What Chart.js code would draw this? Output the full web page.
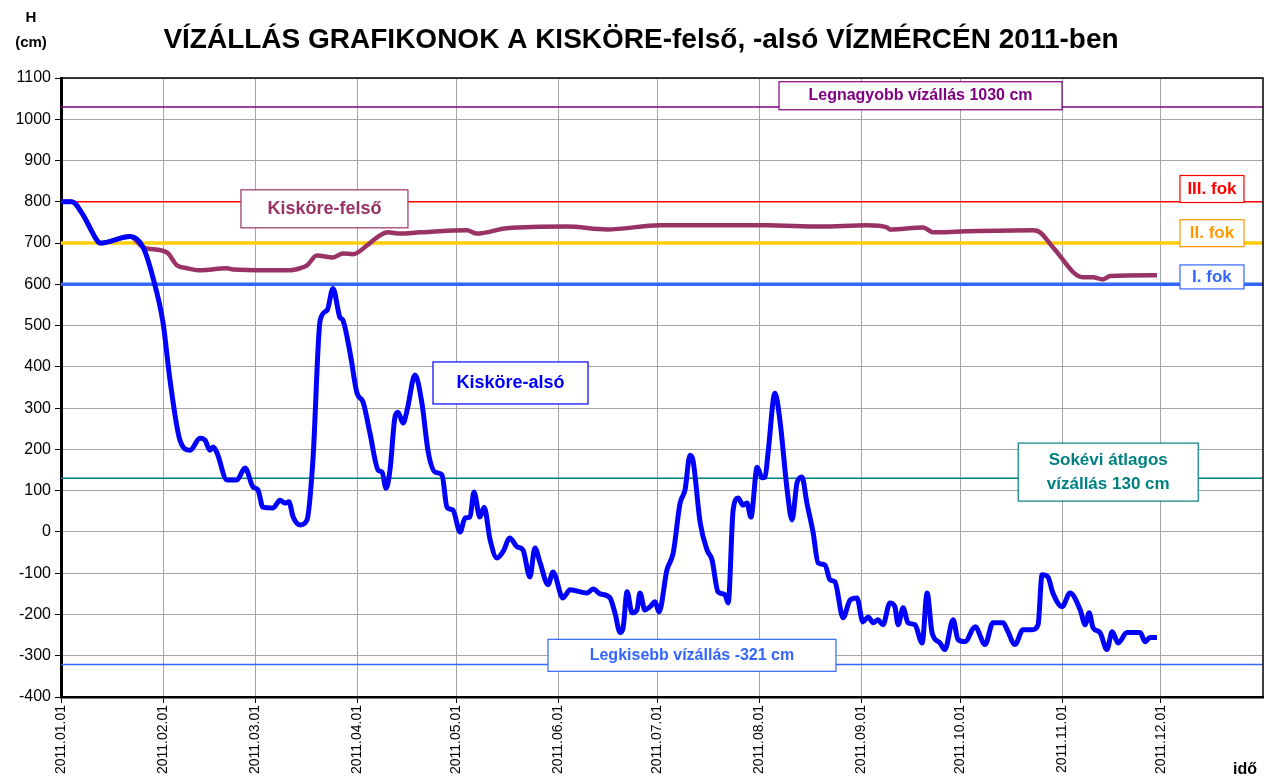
<!DOCTYPE html>
<html lang="hu">
<head>
<meta charset="utf-8">
<title>Vízállás grafikonok Kisköre 2011</title>
<script src="https://cdn.jsdelivr.net/npm/chart.js@4/dist/chart.umd.min.js"></script>
<style>
  html, body { margin: 0; padding: 0; background: #fff; }
  #wrap { position: relative; width: 1266px; height: 783px; }
</style>
</head>
<body>
<div id="wrap"><canvas id="chart" width="1266" height="783"></canvas></div>
<script>
// hónapok kezdőnapja (az év napja) és a tengelyfeliratok
const monthDays = [0, 31, 59, 90, 120, 151, 181, 212, 243, 273, 304, 334];
const monthLabels = ["2011.01.01", "2011.02.01", "2011.03.01", "2011.04.01", "2011.05.01", "2011.06.01",
  "2011.07.01", "2011.08.01", "2011.09.01", "2011.10.01", "2011.11.01", "2011.12.01"];

// Kisköre-felső (cm)
const felsoDays = [0.3, 3.3, 6.4, 10.9, 11.8, 21.0, 24.9, 26.1, 32.2, 35.2, 38.3, 42.2, 50.4, 52.2, 62.6, 69.5,
  72.6, 74.7, 77.7, 82.6, 85.6, 88.7, 92.9, 96.0, 99.3, 102.9, 109.0, 123.3, 126.3, 135.4, 153.7, 165.8,
  181.9, 200.1, 214.4, 230.5, 244.8, 250.8, 251.7, 261.8, 264.8, 273.0, 295.2, 297.3, 301.2, 310.3, 313.4,
  316.4, 318.6, 332.8];
const felsoValues = [800, 800, 772, 707, 700, 716, 690, 687, 677, 646, 639, 634, 639, 636, 634, 634,
  639, 646, 670, 665, 675, 673, 694, 714, 726, 723, 726, 731, 723, 736, 740, 733,
  743, 743, 743, 740, 743, 738, 733, 738, 726, 728, 731, 726, 690, 617, 617,
  612, 620, 622];

// Kisköre-alsó (cm)
const alsoDays = [0.3, 3.3, 6.4, 10.9, 11.8, 21.0, 24.9, 27.9, 31.0, 33.1, 36.1, 39.2, 42.2, 43.7, 45.2, 46.2,
  47.4, 50.4, 53.4, 55.9, 58.3, 59.8, 61.3, 64.4, 66.5, 68.0, 69.2, 70.5, 72.6, 74.7, 76.5, 78.7, 80.8, 82.6,
  84.7, 85.6, 87.8, 89.9, 91.7, 93.8, 96.3, 97.5, 98.7, 99.9, 101.4, 102.3, 103.9, 105.1, 107.5, 109.6, 111.5,
  113.6, 115.7, 117.2, 119.0, 121.2, 122.7, 124.2, 125.4, 127.2, 128.5, 130.3, 132.4, 134.2, 136.3, 138.5,
  140.3, 142.4, 143.9, 145.5, 147.9, 149.4, 152.4, 154.6, 159.7, 161.6, 163.7, 166.7, 168.2, 169.8, 170.7,
  171.9, 173.4, 174.9, 175.8, 177.3, 178.9, 180.4, 181.6, 184.0, 185.9, 188.0, 189.5, 191.0, 191.9, 194.1,
  196.2, 197.7, 199.5, 201.6, 202.6, 204.1, 205.6, 207.1, 208.3, 209.5, 211.4, 212.9, 213.8, 214.7, 216.8,
  218.3, 220.5, 222.0, 223.5, 225.0, 226.5, 228.4, 229.9, 232.0, 233.5, 235.0, 237.5, 239.6, 241.7, 243.5,
  245.1, 246.6, 248.1, 249.6, 251.7, 253.2, 254.2, 255.7, 257.2, 259.3, 261.5, 263.0, 264.5, 266.9, 268.4,
  270.9, 272.4, 274.5, 277.6, 280.6, 283.0, 286.1, 287.3, 289.7, 292.1, 294.9, 296.7, 297.9, 299.7, 301.2,
  304.0, 306.4, 309.5, 311.0, 312.2, 313.4, 315.5, 317.6, 319.2, 321.0, 323.7, 327.7, 329.2, 330.7, 332.8];
const alsoValues = [800, 800, 772, 707, 700, 716, 690, 617, 506, 368, 223, 198, 227, 223, 198, 206,
  191, 126, 126, 155, 109, 102, 60, 58, 77, 70, 73, 36, 17, 29, 174, 513, 537, 590,
  520, 513, 433, 336, 315, 240, 150, 145, 106, 150, 278, 290, 264, 295, 380, 312, 194,
  145, 138, 60, 53, 0, 34, 36, 97, 36, 60, -19, -63, -48, -15, -36,
  -44, -109, -39, -75, -128, -97, -160, -140, -148, -138, -150, -160, -196, -244, -232,
  -145, -196, -189, -148, -189, -181, -169, -194, -92, -51, 70, 102, 186, 174, 22,
  -44, -68, -145, -152, -172, 53, 82, 65, 70, 36, 157, 131, 133, 191, 336,
  271, 102, 29, 119, 133, 70, -2, -75, -80, -116, -121, -208, -165, -160, -218,
  -206, -220, -213, -225, -172, -181, -225, -184, -220, -225, -269, -148, -244, -269, -285,
  -213, -261, -266, -230, -273, -220, -220, -237, -273, -237, -237, -225, -104, -109, -148,
  -181, -148, -189, -225, -196, -232, -244, -285, -242, -269, -244, -244, -266, -256, -256];

// jellemző vízszintek (cm)
const levelValues = [1030, 800, 700, 600, 130, -321];
const levelColors = ["#800080", "#ff0000", "#ffcc00", "#3366ff", "#008080", "#3366ff"];
const levelWidths = [1.5, 1.5, 3.5, 3.5, 1.5, 1.5];

const toPoints = (days, values) => days.map((d, i) => ({ x: d, y: values[i] }));

const datasets = [
  {
    label: "Kisköre-alsó",
    data: toPoints(alsoDays, alsoValues),
    borderColor: "#0000ff",
    borderWidth: 5,
    pointRadius: 0,
    cubicInterpolationMode: "monotone",
    order: 0,
  },
  {
    label: "Kisköre-felső",
    data: toPoints(felsoDays, felsoValues),
    borderColor: "#993366",
    borderWidth: 4.5,
    pointRadius: 0,
    cubicInterpolationMode: "monotone",
    order: 1,
  },
];
levelValues.forEach((v, i) => {
  datasets.push({
    label: "szint " + v,
    data: [{ x: 0, y: v }, { x: 365, y: v }],
    borderColor: levelColors[i],
    borderWidth: levelWidths[i],
    pointRadius: 0,
    order: 2,
  });
});

// feliratos dobozok, adatkoordinátában (nap, cm)
const boxes = [
  { text: ["Legnagyobb vízállás 1030 cm"], x: 261, y: 1057, w: 283, h: 28, color: "#800080", size: 16 },
  { text: ["III. fok"], x: 349.5, y: 831, w: 64, h: 27, color: "#ff0000", size: 17 },
  { text: ["II. fok"], x: 349.5, y: 724, w: 64, h: 27, color: "#ff9900", size: 17 },
  { text: ["I. fok"], x: 349.5, y: 618, w: 64, h: 24, color: "#3366ff", size: 17 },
  { text: ["Kisköre-felső"], x: 80, y: 783, w: 167, h: 38, color: "#993366", size: 18 },
  { text: ["Kisköre-alsó"], x: 136.5, y: 361, w: 155, h: 42, color: "#0000ff", size: 18 },
  { text: ["Sokévi átlagos", "vízállás 130 cm"], x: 318, y: 145, w: 180, h: 58, color: "#008080", size: 17 },
  { text: ["Legkisebb vízállás -321 cm"], x: 191.6, y: -299, w: 288, h: 32, color: "#3366ff", size: 16 },
];

const FONT = "'Liberation Sans', Arial, sans-serif";

const decorPlugin = {
  id: "decor",
  afterDatasetsDraw(chart) {
    const ctx = chart.ctx;
    const area = chart.chartArea;
    const xs = chart.scales.x;
    const ys = chart.scales.y;
    ctx.save();
    // keret felül és jobbra
    ctx.strokeStyle = "#000";
    ctx.lineWidth = 1.5;
    ctx.beginPath();
    ctx.moveTo(area.left, area.top);
    ctx.lineTo(area.right, area.top);
    ctx.lineTo(area.right, area.bottom);
    ctx.stroke();

    ctx.textAlign = "center";
    ctx.textBaseline = "middle";
    for (const b of boxes) {
      const cx = xs.getPixelForValue(b.x);
      const cy = ys.getPixelForValue(b.y);
      ctx.fillStyle = "#fff";
      ctx.fillRect(cx - b.w / 2, cy - b.h / 2, b.w, b.h);
      ctx.strokeStyle = b.color;
      ctx.lineWidth = 1.2;
      ctx.strokeRect(cx - b.w / 2, cy - b.h / 2, b.w, b.h);
      ctx.fillStyle = b.color;
      ctx.font = "bold " + b.size + "px " + FONT;
      const lh = b.size * 1.4;
      b.text.forEach((t, i) => {
        ctx.fillText(t, cx, cy + (i - (b.text.length - 1) / 2) * lh);
      });
    }
    ctx.restore();
  },
  afterDraw(chart) {
    const ctx = chart.ctx;
    ctx.save();
    ctx.fillStyle = "#000";
    ctx.textAlign = "center";
    ctx.textBaseline = "middle";
    ctx.font = "bold 28px " + FONT;
    ctx.fillText("VÍZÁLLÁS GRAFIKONOK A KISKÖRE-felső, -alsó VÍZMÉRCÉN 2011-ben", 641, 40);
    ctx.font = "bold 15px " + FONT;
    ctx.fillText("H", 31, 18);
    ctx.fillText("(cm)", 31, 43);
    ctx.font = "bold 16px " + FONT;
    ctx.fillText("idő", 1245, 770);
    ctx.restore();
  },
};

new Chart(document.getElementById("chart"), {
  type: "line",
  data: { datasets },
  options: {
    responsive: false,
    animation: false,
    devicePixelRatio: 1,
    layout: { padding: { top: 78, right: 3, left: 0, bottom: 0 } },
    plugins: { legend: { display: false }, tooltip: { enabled: false }, title: { display: false } },
    scales: {
      x: {
        type: "linear",
        min: 0,
        max: 365,
        afterBuildTicks(scale) {
          scale.ticks = monthDays.map((v) => ({ value: v }));
        },
        afterFit(scale) {
          scale.height = 86;
        },
        ticks: {
          autoSkip: false,
          minRotation: 90,
          maxRotation: 90,
          padding: 2,
          color: "#000",
          font: { family: FONT, size: 14 },
          callback: (v) => monthLabels[monthDays.indexOf(v)] || "",
        },
        grid: { color: "#a6a6a6", lineWidth: 1, tickLength: 6, tickColor: "#000" },
        border: { color: "#000", width: 2.5 },
      },
      y: {
        min: -400,
        max: 1100,
        afterFit(scale) {
          scale.width = 61;
        },
        ticks: {
          stepSize: 100,
          padding: 4,
          color: "#000",
          font: { family: FONT, size: 16 },
          callback: (v) => String(v),
        },
        grid: { color: "#a6a6a6", lineWidth: 1, tickLength: 6, tickColor: "#000" },
        border: { color: "#000", width: 3 },
      },
    },
  },
  plugins: [decorPlugin],
});
</script>
</body>
</html>
